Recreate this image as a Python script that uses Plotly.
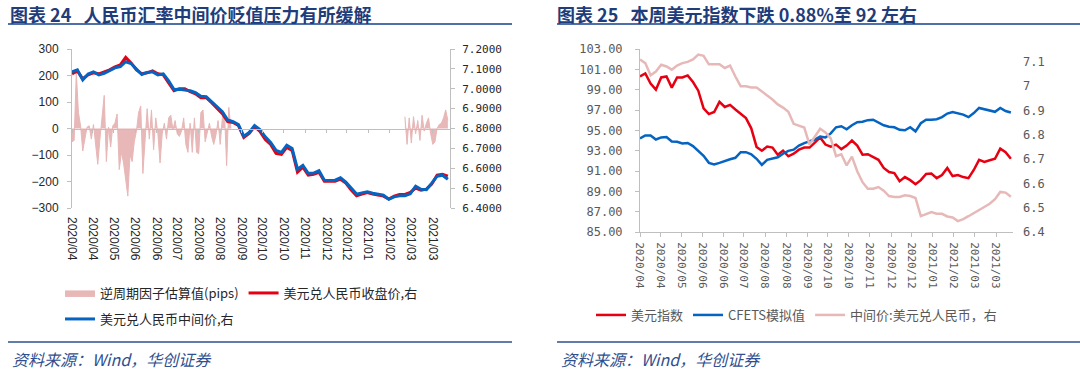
import pandas as pd
import plotly.graph_objects as go

W, H = 1080, 370
def px(x): return x / W
def py(y): return 1 - y / H

# ---------------- data ----------------
tick_labels = ["2020/04", "2020/04", "2020/05", "2020/06", "2020/06", "2020/07",
               "2020/08", "2020/08", "2020/09", "2020/10", "2020/10", "2020/11",
               "2020/12", "2020/12", "2021/01", "2021/02", "2021/03", "2021/03"]
start_date = "2020-04-01"
end_date = "2021-03-19"
last_tick_date = "2021-03-03"
ccf_b_start = "2021-02-05"

# Chart 24: USD/CNY central parity & close (right axis), counter-cyclical factor (pips, left axis)
usdcny_mid = [7.085, 7.095, 7.044, 7.074, 7.085, 7.070, 7.078, 7.090, 7.105, 7.111,
              7.136, 7.127, 7.100, 7.072, 7.082, 7.085, 7.070, 7.075, 7.040, 6.996,
              6.998, 6.995, 6.990, 6.980, 6.962, 6.960, 6.935, 6.915, 6.885, 6.843,
              6.834, 6.820, 6.761, 6.780, 6.815, 6.795, 6.758, 6.730, 6.690, 6.680,
              6.716, 6.700, 6.595, 6.615, 6.575, 6.576, 6.588, 6.540, 6.538, 6.540,
              6.552, 6.530, 6.500, 6.470, 6.476, 6.482, 6.474, 6.470, 6.464, 6.444,
              6.456, 6.462, 6.462, 6.472, 6.510, 6.494, 6.492, 6.525, 6.560, 6.565,
              6.545]
usdcny_close = [7.075, 7.090, 7.050, 7.070, 7.080, 7.075, 7.085, 7.095, 7.110, 7.120,
                7.158, 7.130, 7.095, 7.075, 7.080, 7.090, 7.075, 7.070, 7.030, 6.990,
                7.000, 7.000, 6.985, 6.975, 6.955, 6.955, 6.930, 6.905, 6.875, 6.835,
                6.830, 6.815, 6.755, 6.775, 6.810, 6.785, 6.745, 6.720, 6.675, 6.670,
                6.705, 6.690, 6.580, 6.605, 6.565, 6.570, 6.580, 6.535, 6.535, 6.535,
                6.545, 6.525, 6.490, 6.462, 6.470, 6.478, 6.470, 6.465, 6.460, 6.445,
                6.460, 6.468, 6.468, 6.478, 6.500, 6.490, 6.495, 6.520, 6.565, 6.570,
                6.560]
ccf_a = [-50, -45, 210, 60, 10, -85, -40, 5, 10, -40,
         15, -60, -135, -40, 40, 125, -125, 5, -70, 10,
         20, 55, -155, -90, -130, -200, -255, -100, -125, -50,
         -10, 60, 85, -170, -50, 75, -40, 70, -80, 40,
         -20, -130, -20, 20, -40, 40, 50, -5, 30, -20,
         -30, -10, 40, -60, -90, 20, -90, 40, -90, -95,
         60, 70, -50, -10, 20, -30, -60, -25, 30, -60,
         40, 60, -140, 80, 0]
ccf_b = [45, -60, 40, -55, 45, -20, 30, -45, 50, -10,
         20, 40, -20, -60, -50, 0, 15, 20, 40, 70, 30]

# Chart 25: USD index, CFETS simulated (left axis), USD/CNY central parity (right axis)
dxy = [100.3, 100.6, 99.6, 99.0, 100.2, 100.3, 99.2, 100.2, 100.2, 100.4,
       99.75, 98.9, 97.15, 96.6, 96.8, 97.8, 97.3, 97.5, 97.05, 96.6,
       96.2, 95.2, 93.37, 93.0, 93.4, 93.3, 92.6, 93.0, 92.45, 92.7,
       93.1, 93.3, 93.3, 93.8, 94.3, 93.6, 93.4, 93.6, 93.15, 93.5,
       94.0, 93.5, 92.6, 92.65, 92.35, 92.1, 91.3, 90.9, 90.8, 90.0,
       90.4, 90.1, 89.7, 90.1, 90.7, 90.75, 90.3, 90.6, 91.3, 90.5,
       90.6, 90.4, 90.3, 91.1, 92.1, 91.9, 92.06, 92.2, 93.2, 92.85,
       92.2]
cfets = [94.2, 94.5, 94.5, 94.1, 94.3, 94.35, 93.9, 93.87, 93.7, 93.75,
         93.45, 93.0, 92.5, 91.8, 91.65, 91.8, 92.0, 92.15, 92.3, 92.85,
         92.85, 92.65, 92.2, 91.6, 92.1, 92.22, 92.35, 92.7, 92.98, 93.1,
         93.5, 93.75, 93.95, 94.1, 94.38, 94.3, 94.7, 95.3, 95.4, 95.1,
         95.5, 95.8, 95.84, 96.0, 96.05, 95.75, 95.5, 95.35, 95.3, 95.05,
         95.0, 95.3, 94.9, 95.7, 96.05, 96.05, 96.1, 96.3, 96.65, 96.8,
         96.7, 96.55, 96.3, 96.7, 97.2, 97.05, 96.9, 96.82, 97.2, 96.9,
         96.75]
mid_r = [7.110, 7.095, 7.045, 7.060, 7.088, 7.081, 7.068, 7.085, 7.095, 7.100,
         7.110, 7.130, 7.125, 7.090, 7.090, 7.090, 7.075, 7.085, 7.040, 7.000,
         7.000, 6.995, 6.995, 6.980, 6.962, 6.945, 6.925, 6.912, 6.895, 6.845,
         6.838, 6.830, 6.760, 6.790, 6.825, 6.810, 6.785, 6.712, 6.720, 6.674,
         6.710, 6.650, 6.605, 6.578, 6.578, 6.585, 6.570, 6.548, 6.544, 6.544,
         6.551, 6.548, 6.540, 6.465, 6.475, 6.482, 6.475, 6.475, 6.464, 6.460,
         6.445, 6.453, 6.465, 6.478, 6.490, 6.505, 6.516, 6.535, 6.565, 6.562,
         6.545]

line_dates = pd.date_range(start_date, periods=len(usdcny_mid), freq="5D")
ccf_a_dates = pd.date_range(start_date, periods=len(ccf_a), freq="2D")
ccf_b_dates = pd.date_range(ccf_b_start, periods=len(ccf_b), freq="2D")
tick_dates = pd.date_range(start_date, last_tick_date, periods=len(tick_labels)).normalize()

# ---------------- style ----------------
RED = "#E60012"
BLUE = "#0563C1"
PINK = "#E6B9B8"
PINK_AREA = "#E8B7B7"
AXIS = "#BFBFBF"
DARK = "#262626"
GREY = "#595959"
NAVY = "#1F3D7A"
CJK = "Noto Sans CJK SC"

fig = go.Figure()

# Chart 24
fig.add_trace(go.Scatter(x=ccf_a_dates, y=ccf_a, mode="lines", fill="tozeroy",
                         fillcolor=PINK_AREA, line=dict(color=PINK_AREA, width=1),
                         name="逆周期因子估算值(pips)", legend="legend",
                         xaxis="x", yaxis="y"))
fig.add_trace(go.Scatter(x=ccf_b_dates, y=ccf_b, mode="lines", fill="tozeroy",
                         fillcolor=PINK_AREA, line=dict(color=PINK_AREA, width=1),
                         showlegend=False, xaxis="x", yaxis="y"))
fig.add_trace(go.Scatter(x=line_dates, y=usdcny_close, mode="lines",
                         line=dict(color=RED, width=3),
                         name="美元兑人民币收盘价,右", legend="legend",
                         xaxis="x", yaxis="y2"))
fig.add_trace(go.Scatter(x=line_dates, y=usdcny_mid, mode="lines",
                         line=dict(color=BLUE, width=3),
                         name="美元兑人民币中间价,右", legend="legend2",
                         xaxis="x", yaxis="y2"))
# helper trace so that the zero-crossing axis is drawn
fig.add_trace(go.Scatter(x=[line_dates[0]], y=[None], mode="lines", showlegend=False,
                         hoverinfo="skip", xaxis="x3", yaxis="y"))

# Chart 25
fig.add_trace(go.Scatter(x=line_dates, y=dxy, mode="lines",
                         line=dict(color=RED, width=2.5),
                         name="美元指数", legend="legend3",
                         xaxis="x2", yaxis="y3"))
fig.add_trace(go.Scatter(x=line_dates, y=cfets, mode="lines",
                         line=dict(color=BLUE, width=2.5),
                         name="CFETS模拟值", legend="legend3",
                         xaxis="x2", yaxis="y3"))
fig.add_trace(go.Scatter(x=line_dates, y=mid_r, mode="lines",
                         line=dict(color=PINK, width=2.5),
                         name="中间价:美元兑人民币，右", legend="legend3",
                         xaxis="x2", yaxis="y4"))

x_range = [start_date, end_date]
left_dom_x = [px(72), px(450)]
left_dom_y = [py(208), py(49)]
right_dom_x = [px(640), px(1013)]
right_dom_y = [py(232), py(49)]

num_font_l = dict(family="Liberation Sans, Arial", size=12, color=DARK)

fig.update_layout(
    template="none",
    width=W, height=H, autosize=False,
    margin=dict(l=0, r=0, t=0, b=0, autoexpand=False),
    paper_bgcolor="white", plot_bgcolor="white",
    showlegend=True,
    xaxis=dict(domain=left_dom_x, anchor="y", type="date", range=x_range, automargin=False,
               tickmode="array", tickvals=tick_dates, ticktext=tick_labels,
               tickangle=90, showline=False, ticks="", showgrid=False, zeroline=False,
               ticklabelstandoff=8,
               tickfont=dict(family="Liberation Sans, Arial", size=12, color=DARK)),
    xaxis3=dict(overlaying="x", anchor="free", position=(left_dom_y[0] + left_dom_y[1]) / 2,
                type="date", range=x_range, tickmode="array", tickvals=tick_dates,
                automargin=False,
                showticklabels=False, showline=True, linecolor=AXIS, linewidth=1,
                ticks="outside", ticklen=3, tickcolor=AXIS, showgrid=False, zeroline=False),
    yaxis=dict(domain=left_dom_y, anchor="x", range=[-300, 300], dtick=100, automargin=False,
               showline=True, linecolor=AXIS, ticks="outside", ticklen=4, tickcolor=AXIS,
               showgrid=False, zeroline=False, tickfont=num_font_l, ticklabelstandoff=6),
    yaxis2=dict(overlaying="y", side="right", anchor="x", range=[6.4, 7.2], dtick=0.1,
                tick0=6.4, automargin=False,
                tickformat=".4f", showline=True, linecolor=AXIS, ticks="outside",
                ticklen=4, tickcolor=AXIS, showgrid=False, zeroline=False,
                ticklabelstandoff=5,
                tickfont=dict(family="DejaVu Sans Mono", size=11, color=DARK)),
    xaxis2=dict(domain=right_dom_x, anchor="y3", type="date", range=x_range, automargin=False,
                tickmode="array", tickvals=tick_dates, ticktext=tick_labels,
                tickangle=90, showline=True, linecolor=AXIS, ticks="outside",
                ticklen=4, tickcolor=AXIS, showgrid=False, zeroline=False,
                ticklabelstandoff=3,
                tickfont=dict(family="DejaVu Sans Mono", size=11, color=GREY)),
    yaxis3=dict(domain=right_dom_y, anchor="x2", range=[85, 103], tick0=85, dtick=2,
                automargin=False,
                tickformat=".2f", showline=True, linecolor=AXIS, ticks="outside",
                ticklen=4, tickcolor=AXIS, showgrid=False, zeroline=False,
                ticklabelstandoff=10,
                tickfont=dict(family="DejaVu Sans Mono", size=12, color=GREY)),
    yaxis4=dict(overlaying="y3", side="right", anchor="x2", automargin=False,
                range=[6.4, 6.4 + 183 / 243], tick0=6.4, dtick=0.1,
                showline=False, ticks="", showgrid=False, zeroline=False,
                ticklabelstandoff=9,
                tickfont=dict(family="DejaVu Sans Mono", size=12, color=GREY)),
    legend=dict(orientation="h", x=px(60), y=py(293), xanchor="left", yanchor="middle",
                font=dict(family=CJK, size=13, color=DARK), bgcolor="rgba(0,0,0,0)",
                itemwidth=30, tracegroupgap=0),
    legend2=dict(orientation="h", x=px(60), y=py(319), xanchor="left", yanchor="middle",
                 font=dict(family=CJK, size=13, color=DARK), bgcolor="rgba(0,0,0,0)",
                 itemwidth=30),
    legend3=dict(orientation="h", x=px(591), y=py(315), xanchor="left", yanchor="middle",
                 font=dict(family=CJK, size=13, color=GREY), bgcolor="rgba(0,0,0,0)",
                 itemwidth=30),
)

# titles, rules, sources
nb = "\u00a0"
fig.add_annotation(text="<b>图表 24" + nb * 3 + "人民币汇率中间价贬值压力有所缓解</b>",
                   x=px(9), y=1, xref="paper", yref="paper", xanchor="left",
                   yanchor="top", showarrow=False, borderpad=0,
                   font=dict(family=CJK, size=18, color=NAVY))
fig.add_annotation(text="<b>图表 25" + nb * 3 + "本周美元指数下跌 0.88%至 92 左右</b>",
                   x=px(556), y=1, xref="paper", yref="paper", xanchor="left",
                   yanchor="top", showarrow=False, borderpad=0,
                   font=dict(family=CJK, size=18, color=NAVY))
for x0, x1 in [(8, 512), (557, 1080)]:
    fig.add_shape(type="line", xref="paper", yref="paper", x0=px(x0), x1=px(x1),
                  y0=py(24), y1=py(24), line=dict(color="#4F6FA8", width=2))
    fig.add_shape(type="line", xref="paper", yref="paper", x0=px(x0), x1=px(x1),
                  y0=py(342), y1=py(342), line=dict(color="#2F4F8F", width=1.5))
for x0 in (10, 559):
    fig.add_annotation(text="<i>资料来源：Wind，华创证券</i>",
                       x=px(x0), y=py(359), xref="paper", yref="paper",
                       xanchor="left", yanchor="middle", showarrow=False,
                       font=dict(family=CJK, size=16, color="#2F4F8F"))

fig.write_html("out.html", config={"displayModeBar": False},
               post_script="document.body.style.margin='0';document.body.style.padding='0';")
